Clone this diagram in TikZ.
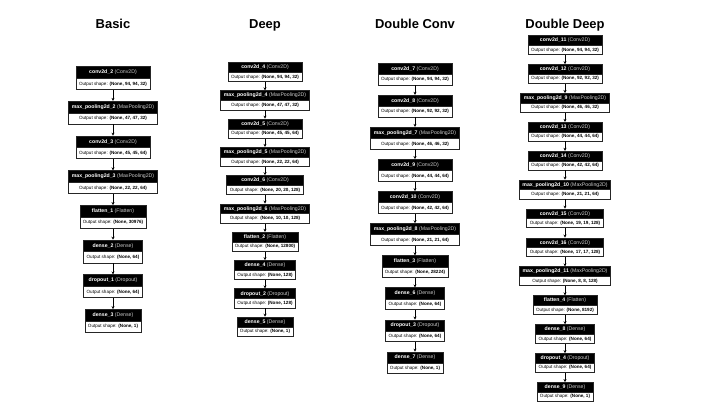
\documentclass[tikz,border=0pt]{standalone}
\usepackage{fontspec}
\setmainfont{Liberation Sans}
\usepackage{tikz}
\usetikzlibrary{arrows.meta, positioning}
\usetikzlibrary{shapes.multipart}
\usepackage{xcolor}

\newcommand{\hdfont}{\fontsize{5.2}{6}\selectfont}
\newcommand{\shfont}{\fontsize{4.6}{5.5}\selectfont}
\newcommand{\lyr}[3]{\hdfont\textcolor{white}{\textbf{#1} {\color{white!80!black}#2}}\nodepart{two}\shfont Output shape: \textbf{#3}}

\begin{document}
\begin{tikzpicture}[
    x=1bp, y=-1bp,
    ->,
    >={Stealth[length=3pt, width=3pt]},
    line width=0.7pt,
    layer/.style={rectangle split, rectangle split parts=2, draw=black!85, line width=0.7pt,
        rectangle split part fill={black,white}, inner xsep=3pt, inner ysep=3.1pt},
    title/.style={anchor=base, font=\fontsize{13}{15}\selectfont\bfseries}
]
\useasboundingbox (0,0) rectangle (720,405);

% Titles
\node[title] (tB) at (113,28.3) {Basic};
\node[title] (tD) at (265,28.3) {Deep};
\node[title] (tDC) at (415,28.3) {Double Conv};
\node[title] (tDD) at (565,28.3) {Double Deep};

% Basic
\begin{scope}[node distance=34.7bp]
\node[layer] (B1) at (113,78) {\lyr{conv2d\_2}{(Conv2D)}{(None, 94, 94, 32)}};
\node[layer, below of=B1] (B2) {\lyr{max\_pooling2d\_2}{(MaxPooling2D)}{(None, 47, 47, 32)}};
\node[layer, below of=B2] (B3) {\lyr{conv2d\_3}{(Conv2D)}{(None, 45, 45, 64)}};
\node[layer, below of=B3] (B4) {\lyr{max\_pooling2d\_3}{(MaxPooling2D)}{(None, 22, 22, 64)}};
\node[layer, below of=B4] (B5) {\lyr{flatten\_1}{(Flatten)}{(None, 30976)}};
\node[layer, below of=B5] (B6) {\lyr{dense\_2}{(Dense)}{(None, 64)}};
\node[layer, below of=B6] (B7) {\lyr{dropout\_1}{(Dropout)}{(None, 64)}};
\node[layer, below of=B7] (B8) {\lyr{dense\_3}{(Dense)}{(None, 1)}};
\end{scope}

% Deep
\begin{scope}[node distance=28.3bp, layer/.append style={inner ysep=2.2pt}]
\node[layer] (D1) at (265,72) {\lyr{conv2d\_4}{(Conv2D)}{(None, 94, 94, 32)}};
\node[layer, below of=D1] (D2) {\lyr{max\_pooling2d\_4}{(MaxPooling2D)}{(None, 47, 47, 32)}};
\node[layer, below of=D2] (D3) {\lyr{conv2d\_5}{(Conv2D)}{(None, 45, 45, 64)}};
\node[layer, below of=D3] (D4) {\lyr{max\_pooling2d\_5}{(MaxPooling2D)}{(None, 22, 22, 64)}};
\node[layer, below of=D4] (D5) {\lyr{conv2d\_6}{(Conv2D)}{(None, 20, 20, 128)}};
\node[layer, below of=D5] (D6) {\lyr{max\_pooling2d\_6}{(MaxPooling2D)}{(None, 10, 10, 128)}};
\node[layer, below of=D6] (D7) {\lyr{flatten\_2}{(Flatten)}{(None, 12800)}};
\node[layer, below of=D7] (D8) {\lyr{dense\_4}{(Dense)}{(None, 128)}};
\node[layer, below of=D8] (D9) {\lyr{dropout\_2}{(Dropout)}{(None, 128)}};
\node[layer, below of=D9] (D10) {\lyr{dense\_5}{(Dense)}{(None, 1)}};
\end{scope}

% Double Conv
\begin{scope}[node distance=32.1bp, layer/.append style={inner ysep=2.85pt}]
\node[layer] (DC1) at (415,74) {\lyr{conv2d\_7}{(Conv2D)}{(None, 94, 94, 32)}};
\node[layer, below of=DC1] (DC2) {\lyr{conv2d\_8}{(Conv2D)}{(None, 92, 92, 32)}};
\node[layer, below of=DC2] (DC3) {\lyr{max\_pooling2d\_7}{(MaxPooling2D)}{(None, 46, 46, 32)}};
\node[layer, below of=DC3] (DC4) {\lyr{conv2d\_9}{(Conv2D)}{(None, 44, 44, 64)}};
\node[layer, below of=DC4] (DC5) {\lyr{conv2d\_10}{(Conv2D)}{(None, 42, 42, 64)}};
\node[layer, below of=DC5] (DC6) {\lyr{max\_pooling2d\_8}{(MaxPooling2D)}{(None, 21, 21, 64)}};
\node[layer, below of=DC6] (DC7) {\lyr{flatten\_3}{(Flatten)}{(None, 28224)}};
\node[layer, below of=DC7] (DC8) {\lyr{dense\_6}{(Dense)}{(None, 64)}};
\node[layer, below of=DC8] (DC9) {\lyr{dropout\_3}{(Dropout)}{(None, 64)}};
\node[layer, below of=DC9] (DC10) {\lyr{dense\_7}{(Dense)}{(None, 1)}};
\end{scope}

% Double Deep
\begin{scope}[node distance=28.9bp, layer/.append style={inner ysep=2.1pt}]
\node[layer] (DD1) at (565,45) {\lyr{conv2d\_11}{(Conv2D)}{(None, 94, 94, 32)}};
\node[layer, below of=DD1] (DD2) {\lyr{conv2d\_12}{(Conv2D)}{(None, 92, 92, 32)}};
\node[layer, below of=DD2] (DD3) {\lyr{max\_pooling2d\_9}{(MaxPooling2D)}{(None, 46, 46, 32)}};
\node[layer, below of=DD3] (DD4) {\lyr{conv2d\_13}{(Conv2D)}{(None, 44, 44, 64)}};
\node[layer, below of=DD4] (DD5) {\lyr{conv2d\_14}{(Conv2D)}{(None, 42, 42, 64)}};
\node[layer, below of=DD5] (DD6) {\lyr{max\_pooling2d\_10}{(MaxPooling2D)}{(None, 21, 21, 64)}};
\node[layer, below of=DD6] (DD7) {\lyr{conv2d\_15}{(Conv2D)}{(None, 19, 19, 128)}};
\node[layer, below of=DD7] (DD8) {\lyr{conv2d\_16}{(Conv2D)}{(None, 17, 17, 128)}};
\node[layer, below of=DD8] (DD9) {\lyr{max\_pooling2d\_11}{(MaxPooling2D)}{(None, 8, 8, 128)}};
\node[layer, below of=DD9] (DD10) {\lyr{flatten\_4}{(Flatten)}{(None, 8192)}};
\node[layer, below of=DD10] (DD11) {\lyr{dense\_8}{(Dense)}{(None, 64)}};
\node[layer, below of=DD11] (DD12) {\lyr{dropout\_4}{(Dropout)}{(None, 64)}};
\node[layer, below of=DD12] (DD13) {\lyr{dense\_9}{(Dense)}{(None, 1)}};
\end{scope}

% Arrows Basic
\draw (B1) -- (B2);
\draw (B2) -- (B3);
\draw (B3) -- (B4);
\draw (B4) -- (B5);
\draw (B5) -- (B6);
\draw (B6) -- (B7);
\draw (B7) -- (B8);

% Arrows Deep
\draw (D1) -- (D2);
\draw (D2) -- (D3);
\draw (D3) -- (D4);
\draw (D4) -- (D5);
\draw (D5) -- (D6);
\draw (D6) -- (D7);
\draw (D7) -- (D8);
\draw (D8) -- (D9);
\draw (D9) -- (D10);

% Arrows Double Conv
\draw (DC1) -- (DC2);
\draw (DC2) -- (DC3);
\draw (DC3) -- (DC4);
\draw (DC4) -- (DC5);
\draw (DC5) -- (DC6);
\draw (DC6) -- (DC7);
\draw (DC7) -- (DC8);
\draw (DC8) -- (DC9);
\draw (DC9) -- (DC10);

% Arrows Double Deep
\draw (DD1) -- (DD2);
\draw (DD2) -- (DD3);
\draw (DD3) -- (DD4);
\draw (DD4) -- (DD5);
\draw (DD5) -- (DD6);
\draw (DD6) -- (DD7);
\draw (DD7) -- (DD8);
\draw (DD8) -- (DD9);
\draw (DD9) -- (DD10);
\draw (DD10) -- (DD11);
\draw (DD11) -- (DD12);
\draw (DD12) -- (DD13);

\end{tikzpicture}
\end{document}
